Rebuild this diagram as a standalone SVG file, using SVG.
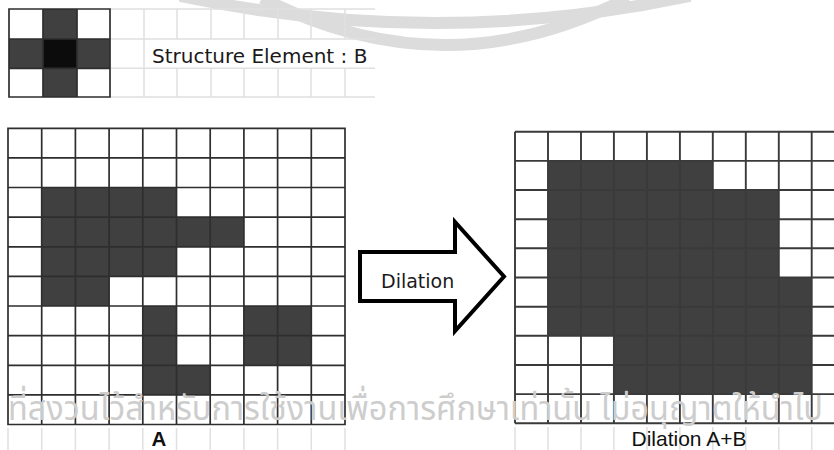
<svg xmlns="http://www.w3.org/2000/svg" width="834" height="450" viewBox="0 0 834 450">
<style>
.dark{fill:#404040}
.core{fill:#0c0c0c}
.grid{fill:none;stroke:#2e2e2e;stroke-width:1.7}
.grid2{fill:none;stroke:#3a3a3a;stroke-width:1.9}
.faint{fill:none;stroke:#e0e0e0;stroke-width:1.5}
.wm{fill:none;stroke:#dcdcdc;stroke-width:12}
.lbl{font-family:"DejaVu Sans",Verdana,sans-serif;fill:#1a1a1a}
.cap{font-family:"Liberation Sans",Arial,sans-serif;fill:#111}
.thai{font-family:"Noto Sans Thai","Noto Sans","DejaVu Sans",sans-serif;fill:#cdcdcd}
</style>
<rect width="834" height="450" fill="#fff"/>
<g id="watermark-arcs">
<path class="wm" d="M180,-4 Q436,50 690,-4"/>
<path class="wm" d="M262,-2 Q445,92 628,-2"/>
</g>
<g id="structure-element-B">
<path class="faint" d="M110,9H375M110,39H375M110,68.3H375M110,97H375M144,9V97M177,9V39M211,9V39M244,9V39M278,9V39M311,9V39M345,9V39M177,68.3V97M211,68.3V97M244,68.3V97M278,68.3V97M311,68.3V97M345,68.3V97"/>
<rect x="43" y="9" width="34" height="30" class="dark"/>
<rect x="9" y="39" width="34" height="29.3" class="dark"/>
<rect x="77" y="39" width="33" height="29.3" class="dark"/>
<rect x="43" y="68.3" width="34" height="28.7" class="dark"/>
<rect x="43" y="39" width="34" height="29.3" class="core"/>
<path class="grid" d="M9,9H110V97H9ZM43,9V97M77,9V97M9,39H110M9,68.3H110"/>
<text class="lbl" x="152" y="63" font-size="20">Structure Element : B</text>
</g>
<g id="grid-A">
<rect x="41.7" y="187.5" width="134.8" height="29.7" class="dark"/>
<rect x="41.7" y="217.2" width="202.2" height="29.6" class="dark"/>
<rect x="41.7" y="246.8" width="134.8" height="29.6" class="dark"/>
<rect x="41.7" y="276.4" width="67.4" height="29.6" class="dark"/>
<rect x="142.8" y="306" width="33.7" height="59.3" class="dark"/>
<rect x="243.9" y="306" width="67.4" height="59.3" class="dark"/>
<rect x="142.8" y="365.3" width="67.4" height="29.6" class="dark"/>
<path class="grid" d="M8,128.3H345V424.5H8ZM41.7,128.3V424.5M75.4,128.3V424.5M109.1,128.3V424.5M142.8,128.3V424.5M176.5,128.3V424.5M210.2,128.3V424.5M243.9,128.3V424.5M277.6,128.3V424.5M311.3,128.3V424.5M8,157.9H345M8,187.5H345M8,217.2H345M8,246.8H345M8,276.4H345M8,306H345M8,335.6H345M8,365.3H345M8,394.9H345"/>
<path class="faint" d="M8,428V450M41.7,428V450M75.4,428V450M109.1,428V450M142.8,428V450M176.5,428V450M210.2,428V450M243.9,428V450M277.6,428V450M311.3,428V450M345,428V450"/>
<text class="cap" x="159" y="446" font-size="20.5" font-weight="bold" text-anchor="middle">A</text>
</g>
<g id="connectors">
<path id="dilation-arrow" d="M360,252H455V222L504,276.5L455,331V301H360Z" fill="#fff" stroke="#000" stroke-width="4" stroke-linejoin="miter"/>
<text class="lbl" x="381" y="288" font-size="19">Dilation</text>
</g>
<g id="grid-dilation">
<rect x="548" y="160.9" width="164.8" height="29.2" class="dark"/>
<rect x="548" y="190" width="230.8" height="87.5" class="dark"/>
<rect x="548" y="277.5" width="263.7" height="58.3" class="dark"/>
<rect x="613.9" y="335.8" width="197.8" height="58.3" class="dark"/>
<path class="grid2" d="M515,131.7V423.3M548,131.7V423.3M581,131.7V423.3M613.9,131.7V423.3M646.9,131.7V423.3M679.9,131.7V423.3M712.8,131.7V423.3M745.8,131.7V423.3M778.8,131.7V423.3M811.7,131.7V423.3M515,131.7H834M515,160.9H834M515,190H834M515,219.2H834M515,248.3H834M515,277.5H834M515,306.7H834M515,335.8H834M515,365H834M515,394.1H834M515,423.3H834"/>
<path class="faint" d="M515,427V450M548,427V450M581,427V450M613.9,427V450M646.9,427V450M679.9,427V450M712.8,427V450M745.8,427V450M778.8,427V450M811.7,427V450"/>
<text class="cap" x="689" y="446" font-size="21" text-anchor="middle">Dilation A+B</text>
</g>
<text class="thai" x="8" y="420" font-size="34" textLength="815" lengthAdjust="spacingAndGlyphs">ที่สงวนไว้สำหรับการใช้งานเพื่อการศึกษาเท่านั้น ไม่อนุญาตให้นำไป</text>
</svg>
